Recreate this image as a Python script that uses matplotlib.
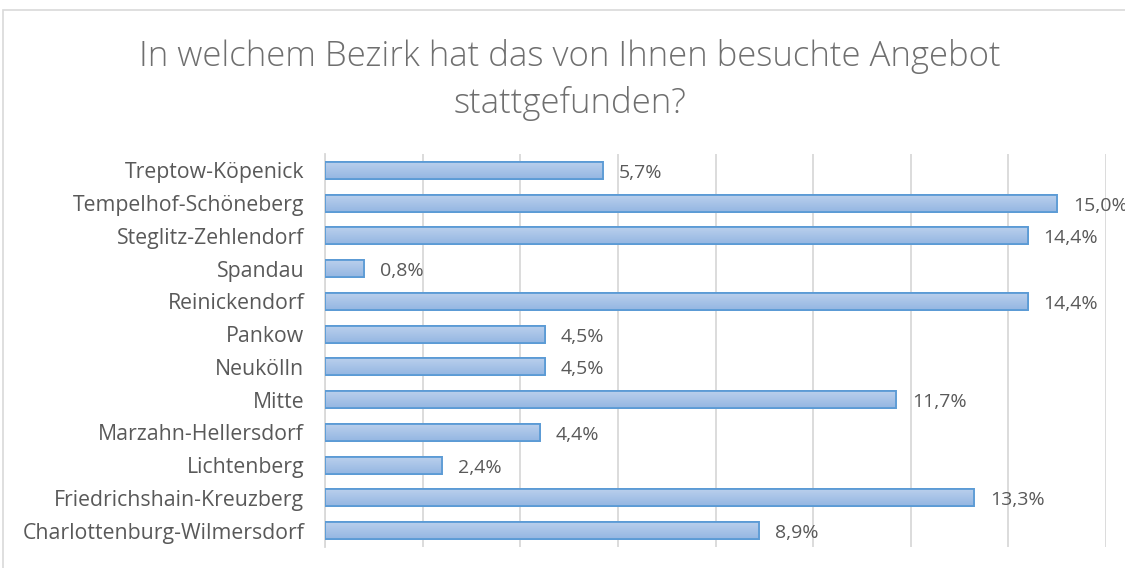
import matplotlib.pyplot as plt
import numpy as np
from matplotlib.patches import Rectangle
from matplotlib.colors import LinearSegmentedColormap

# Daten (von unten nach oben, wie im Excel-Diagramm)
bezirke = ['Charlottenburg-Wilmersdorf', 'Friedrichshain-Kreuzberg', 'Lichtenberg',
           'Marzahn-Hellersdorf', 'Mitte', 'Neukölln', 'Pankow', 'Reinickendorf',
           'Spandau', 'Steglitz-Zehlendorf', 'Tempelhof-Schöneberg', 'Treptow-Köpenick']
anteile = [8.9, 13.3, 2.4, 4.4, 11.7, 4.5, 4.5, 14.4, 0.8, 14.4, 15.0, 5.7]
titel = 'In welchem Bezirk hat das von Ihnen besuchte Angebot\nstattgefunden?'

plt.rcParams['font.family'] = ['Open Sans', 'DejaVu Sans']

fig = plt.figure(figsize=(11.25, 5.68), dpi=100)
ax = fig.add_axes([325/1125, 1 - 547/568, (1106 - 325)/1125, (547 - 154)/568])

# Rahmen des Diagrammbereichs
fig.patches.append(Rectangle((3/1125, -0.1), 1.2, 1 - 10/568 + 0.1, transform=fig.transFigure,
                             fill=False, edgecolor='#d9d9d9', linewidth=1.2))

y = np.arange(len(bezirke))
bars = ax.barh(y, anteile, height=0.52, color='#a9c4e8', edgecolor='#5b9bd5', linewidth=1.3, zorder=3)

# leichter Farbverlauf in den Balken (oben heller, unten dunkler)
grad = np.linspace(0, 1, 64).reshape(-1, 1)
cmap = LinearSegmentedColormap.from_list('g', ['#94b6e2', '#bcd1ed'])
for b in bars:
    x0, y0, w, h = b.get_x(), b.get_y(), b.get_width(), b.get_height()
    im = ax.imshow(grad, extent=[x0, x0 + w, y0, y0 + h], aspect='auto', cmap=cmap,
                   zorder=3.5, origin='lower')
    im.set_clip_path(b)
    ax.add_patch(Rectangle((x0, y0), w, h, fill=False, edgecolor='#5b9bd5', linewidth=1.3, zorder=4))

for yi, v in zip(y, anteile):
    ax.text(v + 0.32, yi - 0.08, f'{v:.1f}%'.replace('.', ','), va='center', ha='left',
            fontsize=14, color='#595959')

ax.set_xlim(0, 16)
ax.set_ylim(-0.5, len(bezirke) - 0.5)
ax.set_xticks(np.arange(0, 17, 2))
ax.set_xticklabels([])
ax.tick_params(axis='x', length=0)
ax.tick_params(axis='y', length=0, labelsize=15.3, labelcolor='#595959', pad=15)
ax.set_yticks(y)
ax.set_yticklabels(bezirke)
ax.grid(axis='x', color='#d9d9d9', linewidth=1.3, zorder=0)
for s in ['top', 'right', 'bottom']:
    ax.spines[s].set_visible(False)
ax.spines['left'].set_color('#d9d9d9')
ax.spines['left'].set_linewidth(1.3)

fig.text(570/1125, 1 - 80/568, titel, ha='center', va='center', fontsize=25,
         color='#6f6f6f', linespacing=1.42, fontweight='light')

fig.savefig('out.png', dpi=100)
